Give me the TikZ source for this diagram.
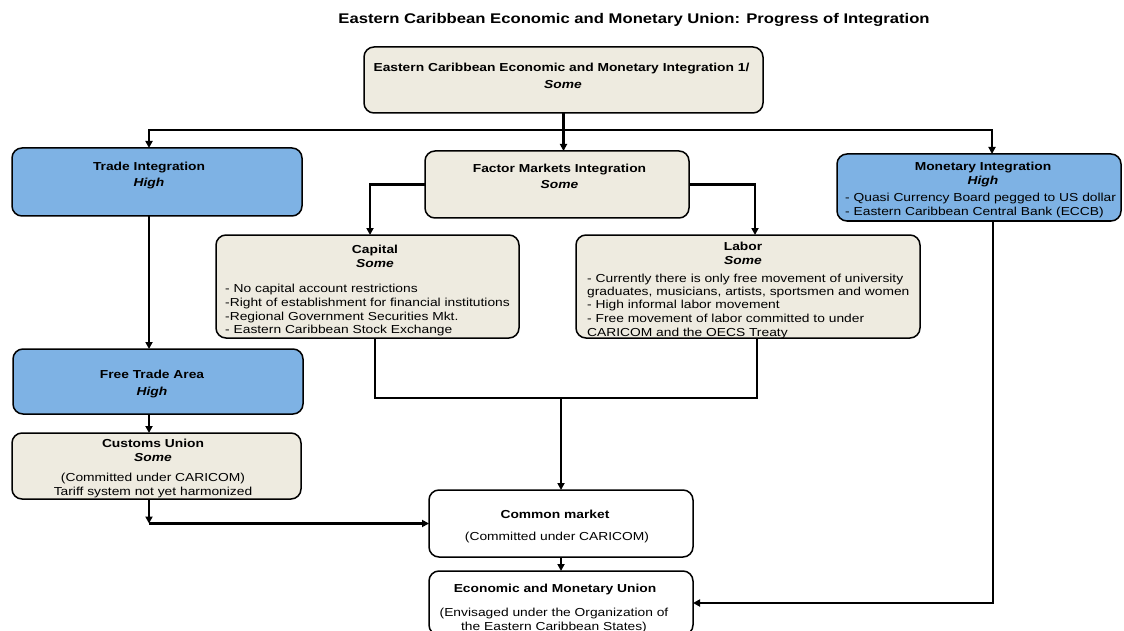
\documentclass[tikz,border=0pt]{standalone}
\usepackage{fontspec}
\setmainfont{Liberation Sans}[FakeStretch=1.19]
\usetikzlibrary{arrows.meta}
\definecolor{bluebox}{RGB}{126,178,228}
\definecolor{beige}{RGB}{238,235,224}
\newcommand\fsbox{\fontsize{11.6}{13}\selectfont}
\newcommand\fstitle{\fontsize{14}{16}\selectfont\bfseries}
\begin{document}
\begin{tikzpicture}[x=1pt,y=-1pt,
  box/.style={draw=black, line width=1.5pt, rounded corners=10pt, inner sep=0pt, outer sep=0pt, anchor=north west},
  bluefill/.style={box, fill=bluebox},
  beigefill/.style={box, fill=beige},
  whitefill/.style={box, fill=white},
  ln/.style={line width=2.2pt},
  arr/.style={line width=2.2pt, -{Triangle[length=7pt,width=7pt]}},
  txt/.style={inner sep=0pt, anchor=base, font=\fsbox},
  txb/.style={txt, font=\fsbox\bfseries},
  txbi/.style={txt, font=\fsbox\bfseries\itshape},
  txl/.style={txt, anchor=base west}]
\useasboundingbox (0,0) rectangle (1124,631);

% title
\node[inner sep=0pt, anchor=base, font=\fstitle] (title) at (634,24) {Eastern Caribbean Economic and Monetary Union: Progress of Integration};

% boxes
\node[beigefill, minimum width=399pt, minimum height=66pt] (top) at (364,47) {};
\node[bluefill, minimum width=290pt, minimum height=68pt] (trade) at (12,148) {};
\node[beigefill, minimum width=264pt, minimum height=67pt] (factor) at (425,151) {};
\node[bluefill, minimum width=284pt, minimum height=67pt] (monetary) at (837,154) {};
\node[beigefill, minimum width=303pt, minimum height=103pt] (capital) at (216,235) {};
\node[beigefill, minimum width=344pt, minimum height=103pt] (labor) at (576,235) {};
\node[bluefill, minimum width=290pt, minimum height=65pt] (fta) at (13,349) {};
\node[beigefill, minimum width=289pt, minimum height=66pt] (customs) at (12,433) {};
\node[whitefill, minimum width=264pt, minimum height=67pt] (common) at (429,490) {};
\node[whitefill, minimum width=264pt, minimum height=64pt] (emu) at (429,571) {};

% texts
\node[txb] (t1) at (561.5,72) {Eastern Caribbean Economic and Monetary Integration 1/};
\node[txbi] (t2) at (563,89) {Some};
\node[txb] (t3) at (149,171) {Trade Integration};
\node[txbi] (t4) at (149,187) {High};
\node[txb] (t5) at (559.5,173) {Factor Markets Integration};
\node[txbi] (t6) at (559.5,189) {Some};
\node[txb] (t7) at (983,171) {Monetary Integration};
\node[txbi] (t8) at (983,185) {High};
\node[txl] (t9) at (845,202) {- Quasi Currency Board pegged to US dollar};
\node[txl] (t10) at (845,215) {- Eastern Caribbean Central Bank (ECCB)};
\node[txb] (t11) at (375,253) {Capital};
\node[txbi] (t12) at (375,267) {Some};
\node[txl] (t13) at (225,292) {- No capital account restrictions};
\node[txl] (t14) at (225,306) {-Right of establishment for financial institutions};
\node[txl] (t15) at (225,320) {-Regional Government Securities Mkt.};
\node[txl] (t16) at (225,333) {- Eastern Caribbean Stock Exchange};
\node[txb] (t17) at (743,250) {Labor};
\node[txbi] (t18) at (743,264) {Some};
\node[txl] (t19) at (587,282) {- Currently there is only free movement of university};
\node[txl] (t20) at (587,295) {graduates, musicians, artists, sportsmen and women};
\node[txl] (t21) at (587,308) {- High informal labor movement};
\node[txl] (t22) at (587,322) {- Free movement of labor committed to under};
\node[txl] (t23) at (587,336) {CARICOM and the OECS Treaty};
\node[txb] (t24) at (152,378) {Free Trade Area};
\node[txbi] (t25) at (152,395) {High};
\node[txb] (t26) at (153,447) {Customs Union};
\node[txbi] (t27) at (153,461) {Some};
\node[txt] (t28) at (153,481) {(Committed under CARICOM)};
\node[txt] (t29) at (153,495) {Tariff system not yet harmonized};
\node[txb] (t30) at (555,518) {Common market};
\node[txt] (t31) at (557,540) {(Committed under CARICOM)};
\node[txb] (t32) at (555,592) {Economic and Monetary Union};
\node[txt] (t33) at (554,616) {(Envisaged under the Organization of};
\node[txt] (t34) at (554,630) {the Eastern Caribbean States)};

% connectors
\coordinate (hub) at (563.5,130);
\coordinate (tl) at (149,130);
\coordinate (tr) at (992,130);
\draw[ln] (top.south) -- (hub);
\draw[arr] (hub) -- (factor.north -| hub);
\draw[arr] (hub) -- (tl) -- (tl |- trade.north);
\draw[arr] (hub) -- (tr) -- (tr |- monetary.north);
\draw[arr] (factor.west) -| ([xshift=2.5pt]capital.north);
\draw[arr] (factor.east) -| ([xshift=7pt]labor.north);
\coordinate (jl) at (375,398);
\coordinate (jr) at (757,398);
\coordinate (jm) at (561,398);
\draw[ln] (jl |- capital.south) -- (jl) -- (jr) -- (jr |- labor.south);
\draw[arr] (jm) -- (common.north);
\draw[arr] (tl |- trade.south) -- (tl |- fta.north);
\draw[arr] (tl |- fta.south) -- (tl |- customs.north);
\coordinate (cb) at (149,523.5);
\draw[arr] (cb |- customs.south) -- (cb);
\draw[arr] (cb) -- (common.west);
\draw[arr] (common.south) -- (emu.north);
\coordinate (mv) at (993,603);
\draw[arr] (mv |- monetary.south) |- (emu.east);
\end{tikzpicture}
\end{document}
